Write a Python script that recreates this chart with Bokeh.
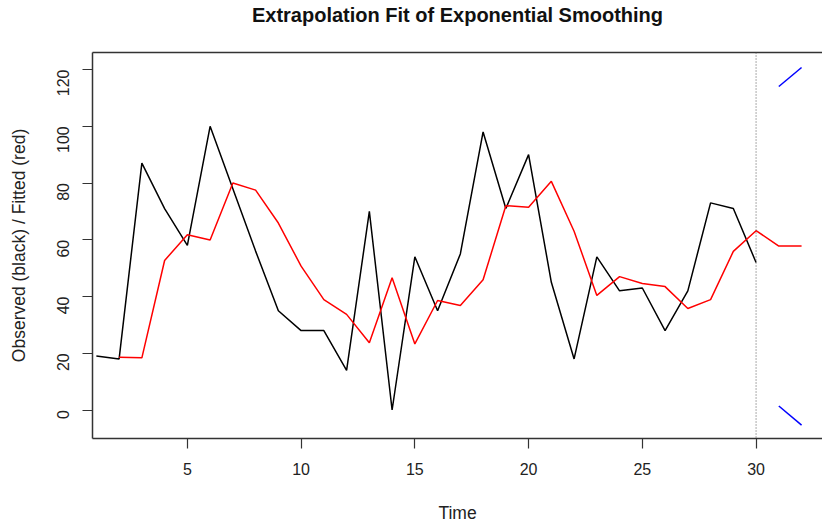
import math
from bokeh.plotting import figure
from bokeh.models import Range1d, LinearAxis, Span, FixedTicker
from bokeh.embed import file_html
from bokeh.resources import INLINE

# ---- data ----
t_obs = list(range(1, 31))
observed = [19, 18, 87, 71, 58, 100, 78, 56, 35, 28, 28, 14, 70, 0, 54,
            35, 55, 98, 71, 90, 45, 18, 54, 42, 43, 28, 42, 73, 71, 52]
t_fit = list(range(2, 33))
fitted = [18.6, 18.4, 52.7, 61.8, 59.9, 80.0, 77.5, 65.9, 50.7, 38.9, 33.7,
          23.7, 46.6, 23.3, 38.6, 36.8, 45.9, 72.0, 71.5, 80.6, 63.0, 40.4,
          47.0, 44.6, 43.5, 35.8, 38.9, 55.9, 63.2, 57.8, 57.8]
t_fc = [31, 32]
upper = [114.0, 120.7]
lower = [1.4, -5.3]
split_at = 30
x_ticks = [5, 10, 15, 20, 25, 30]
y_ticks = [0, 20, 40, 60, 80, 100, 120]
title_text = "Extrapolation Fit of Exponential Smoothing"

FONT = "Liberation Sans"
BOX = "#333333"

p = figure(width=822, height=527, output_backend="svg", toolbar_location=None,
           x_range=Range1d(0.83, 32.92), y_range=Range1d(-10.04, 126.0),
           x_axis_location=None, y_axis_location=None,
           min_border_left=92, min_border_right=0, min_border_top=52,
           min_border_bottom=89)
p.outline_line_color = None
p.xgrid.visible = False
p.ygrid.visible = False

xa = LinearAxis(ticker=FixedTicker(ticks=x_ticks), axis_label="Time")
ya = LinearAxis(ticker=FixedTicker(ticks=y_ticks),
                axis_label="Observed (black) / Fitted (red)")
for ax in (xa, ya):
    ax.axis_line_color = BOX
    ax.axis_line_width = 1.5
    ax.major_tick_out = 10
    ax.major_tick_in = 0
    ax.major_tick_line_color = BOX
    ax.major_tick_line_width = 1.2
    ax.minor_tick_line_color = None
    ax.major_label_text_font = FONT
    ax.major_label_text_font_size = "16px"
    ax.major_label_text_color = "#222222"
    ax.axis_label_text_font = FONT
    ax.axis_label_text_font_size = "17.5px"
    ax.axis_label_text_font_style = "normal"
    ax.axis_label_text_color = "#222222"
xa.major_label_standoff = 14
xa.axis_label_standoff = 25
ya.major_label_orientation = math.pi / 2
ya.major_label_standoff = 19
ya.axis_label_standoff = 20
p.add_layout(xa, "below")
p.add_layout(ya, "left")

# top border of the box, carrying the chart title as its label
top = LinearAxis(ticker=FixedTicker(ticks=[]), axis_label=title_text)
top.axis_line_color = BOX
top.axis_line_width = 1.5
top.major_tick_line_color = None
top.minor_tick_line_color = None
top.major_tick_out = 0
top.major_label_text_font_size = "0px"
top.axis_label_text_font = FONT
top.axis_label_text_font_size = "20px"
top.axis_label_text_font_style = "bold"
top.axis_label_text_color = "#111111"
top.axis_label_standoff = 27
p.add_layout(top, "above")

p.add_layout(Span(location=split_at, dimension="height", line_color="#555555",
                  line_dash="1 2", line_width=1))

p.line(t_obs, observed, line_color="black", line_width=1.5)
p.line(t_fit, fitted, line_color="red", line_width=1.5)
p.line(t_fc, upper, line_color="blue", line_width=1.5)
p.line(t_fc, lower, line_color="blue", line_width=1.5)

open("out.html", "w").write(file_html(p, INLINE))
